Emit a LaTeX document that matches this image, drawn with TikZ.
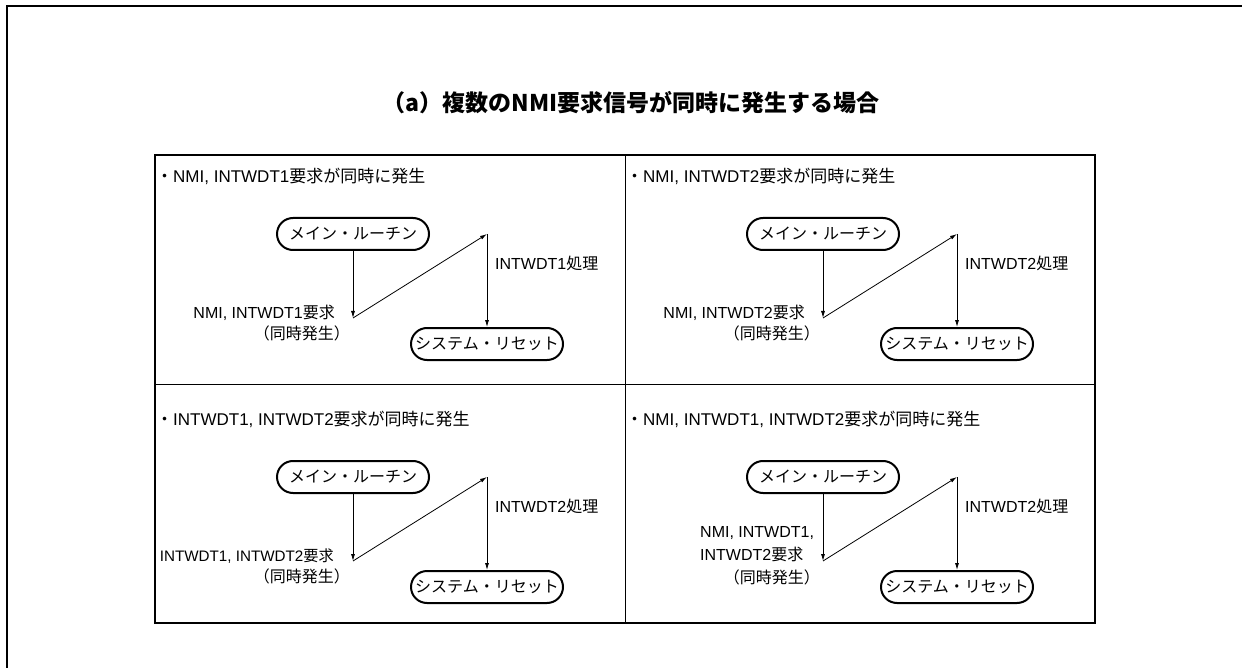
\documentclass[tikz,border=0pt]{standalone}
\usepackage{fontspec}
\setmainfont{Noto Sans CJK JP}
\newfontfamily\latfont{Liberation Sans}
\newcommand{\la}[1]{{\latfont #1}}
\usetikzlibrary{arrows.meta}
\tikzset{
  term/.style={draw, line width=2pt, rounded corners=16pt, minimum width=152pt, minimum height=32pt, inner sep=0pt, font=\fontsize{16}{16}\selectfont},
  lbl/.style={inner sep=0pt, font=\fontsize{16}{16}\selectfont},
  head/.style={inner sep=0pt, font=\fontsize{17}{17}\selectfont},
  arr/.style={-{Latex[length=7pt,width=4pt]}, line width=0.8pt},
}
\newcommand{\flowpanel}[5]{%
  \begin{scope}[shift={(#2,#3)}]
    \node[head, anchor=west] (h#1) at (156,176) {#4};
    \node[term] (m#1) at (353,234) {メイン・ルーチン};
    \node[term] (s#1) at (487,344) {システム・リセット};
    \coordinate (p#1) at (353,318);
    \coordinate (q#1) at (487,234);
    \draw[arr] (m#1.south) -- (p#1);
    \draw[arr] (p#1) -- (q#1);
    \draw[arr] (q#1) -- (s#1.north);
    \node[lbl, anchor=west] (c#1) at (495,263) {#5};
  \end{scope}}
\begin{document}
\begin{tikzpicture}[x=1pt, y=-1pt]
  \useasboundingbox (0,0) rectangle (1242,668);
  % outer frame
  \draw[line width=2.2pt] (7,668) -- (7,6) -- (1242,6);
  % title
  \node[font=\fontsize{23}{23}\selectfont\bfseries] (title) at (631,103) {（a）複数のNMI要求信号が同時に発生する場合};
  % inner box
  \draw[line width=1.8pt] (155,155) rectangle (1095,623);
  \draw[line width=0.9pt] (625,155) -- (625,623);
  \draw[line width=0.9pt] (155,384) -- (1095,384);
  % panels
  \flowpanel{1}{0}{0}{・\la{NMI, INTWDT1}要求が同時に発生}{\la{INTWDT1}処理}
  \flowpanel{2}{470}{0}{・\la{NMI, INTWDT2}要求が同時に発生}{\la{INTWDT2}処理}
  \flowpanel{3}{0}{243}{・\la{INTWDT1, INTWDT2}要求が同時に発生}{\la{INTWDT2}処理}
  \flowpanel{4}{470}{243}{・\la{NMI, INTWDT1, INTWDT2}要求が同時に発生}{\la{INTWDT2}処理}
  % request labels
  \node[lbl, anchor=east] (r1a) at (335,313) {\la{NMI, INTWDT1}要求};
  \node[lbl, anchor=east] (r1b) at (350,333) {（同時発生）};
  \node[lbl, anchor=east] (r2a) at (805,313) {\la{NMI, INTWDT2}要求};
  \node[lbl, anchor=east] (r2b) at (820,333) {（同時発生）};
  \node[lbl, anchor=east, font=\fontsize{15.2}{15.2}\selectfont] (r3a) at (334,556) {\la{INTWDT1, INTWDT2}要求};
  \node[lbl, anchor=east] (r3b) at (350,576) {（同時発生）};
  \node[lbl, anchor=west] (r4a) at (700,533) {\la{NMI, INTWDT1,}};
  \node[lbl, anchor=west] (r4b) at (700,554) {\la{INTWDT2}要求};
  \node[lbl, anchor=east] (r4c) at (820,577) {（同時発生）};
\end{tikzpicture}
\end{document}
